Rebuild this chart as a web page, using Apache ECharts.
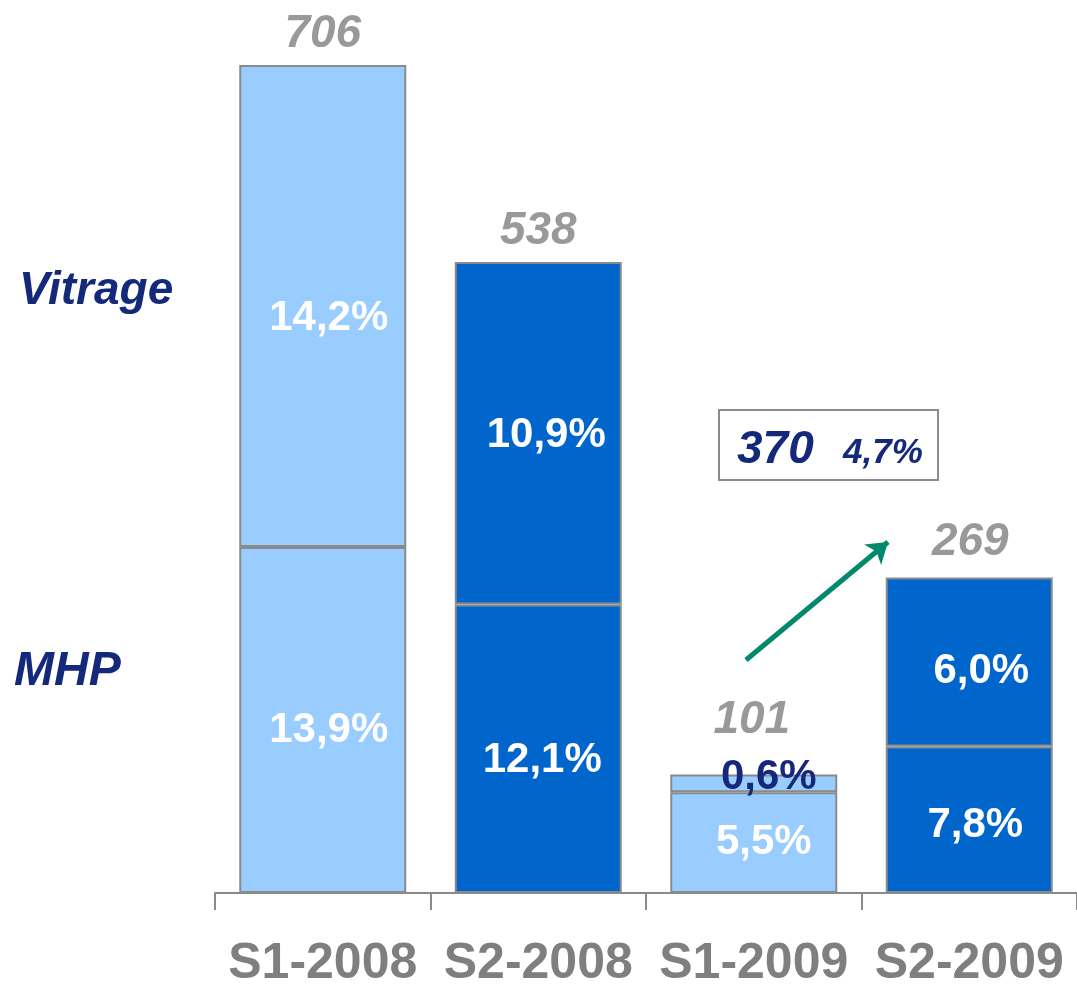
<!DOCTYPE html>
<html>
<head>
<meta charset="utf-8">
<script src="https://cdn.jsdelivr.net/npm/echarts@6/dist/echarts.min.js"></script>
<style>
html,body{margin:0;padding:0;background:#fff;}
#c{width:1077px;height:990px;}
</style>
</head>
<body>
<div id="c"></div>
<script>
var categories = ['S1-2008', 'S2-2008', 'S1-2009', 'S2-2009'];
var mhpValues = [295, 246, 86, 125];
var vitrageValues = [411, 292, 15, 144];
var totals = [706, 538, 101, 269];
var mhpPct = ['13,9%', '12,1%', '5,5%', '7,8%'];
var vitragePct = ['14,2%', '10,9%', '0,6%', '6,0%'];
var annotationTotal = '370';
var annotationPct = '4,7%';

// styling (not data)
var barColors = ['#99CCFF', '#0066CC', '#99CCFF', '#0066CC'];
var mhpLabelOffsets = [[6, 10], [4, 12], [10, 0], [6, 6]];
var vitLabelOffsets = [[6, 12], [8, 2], [15, -6], [12, 9]];
var totalLabelOffsets = [[0, 0], [0, 0], [-2, -23], [1, -4]];

var FONT = "'Liberation Sans', Arial, sans-serif";
var NAVY = '#15297A';
var GRAY = '#7f7f7f';

var chart = echarts.init(document.getElementById('c'), null, {renderer: 'canvas'});

function segData(vals, offsets, isTop) {
  return vals.map(function (v, i) {
    var item = {value: v, itemStyle: {color: barColors[i]}, label: {offset: offsets[i]}};
    if (isTop && i === 2) item.label.color = NAVY;
    return item;
  });
}

var labelBase = {
  show: true,
  position: 'inside',
  fontFamily: FONT,
  fontWeight: 'bold',
  fontSize: 42,
  color: '#ffffff'
};

var option = {
  animation: false,
  backgroundColor: '#ffffff',
  grid: {left: 215, top: 65, width: 866, bottom: 97},
  xAxis: {
    type: 'category',
    data: categories,
    axisLine: {show: true, lineStyle: {color: '#8a8a8a', width: 2}},
    axisTick: {show: true, interval: 0, length: 17, lineStyle: {color: '#8a8a8a', width: 2}},
    axisLabel: {
      interval: 0,
      margin: 46,
      color: GRAY,
      fontFamily: FONT,
      fontWeight: 'bold',
      fontSize: 50
    }
  },
  yAxis: {
    type: 'value',
    min: 0,
    max: 706,
    show: false,
    splitLine: {show: false}
  },
  series: [
    {
      name: 'MHP',
      type: 'bar',
      stack: 'total',
      barWidth: 167,
      data: segData(mhpValues, mhpLabelOffsets, false),
      itemStyle: {borderColor: '#8a8a8a', borderWidth: 2},
      label: Object.assign({}, labelBase, {
        formatter: function (p) { return mhpPct[p.dataIndex]; }
      })
    },
    {
      name: 'Vitrage',
      type: 'bar',
      stack: 'total',
      barWidth: 167,
      data: segData(vitrageValues, vitLabelOffsets, true),
      itemStyle: {borderColor: '#8a8a8a', borderWidth: 2},
      label: Object.assign({}, labelBase, {
        formatter: function (p) { return vitragePct[p.dataIndex]; }
      })
    },
    {
      name: 'Total',
      type: 'scatter',
      symbolSize: 0,
      z: 10,
      data: totals.map(function (v, i) {
        return {value: v, label: {offset: totalLabelOffsets[i]}};
      }),
      label: {
        show: true,
        position: 'top',
        distance: 8,
        color: GRAY,
        fontFamily: FONT,
        fontWeight: 'bold',
        fontStyle: 'italic',
        fontSize: 46,
        formatter: function (p) { return String(totals[p.dataIndex]); }
      },
      markLine: {
        silent: true,
        symbol: ['none', 'arrow'],
        symbolSize: [20, 20],
        label: {show: false},
        lineStyle: {color: '#00896B', width: 5, type: 'solid'},
        data: [[{x: 746, y: 660}, {x: 888, y: 542}]]
      }
    }
  ],
  graphic: [
    {
      type: 'text',
      left: 19,
      top: 268,
      style: {text: 'Vitrage', fill: NAVY, font: 'italic bold 46px ' + FONT}
    },
    {
      type: 'text',
      left: 14,
      top: 648,
      style: {text: 'MHP', fill: NAVY, font: 'italic bold 48px ' + FONT}
    },
    {
      type: 'rect',
      shape: {x: 719, y: 410, width: 219, height: 70},
      style: {fill: '#ffffff', stroke: '#8c8c8c', lineWidth: 2}
    },
    {
      type: 'text',
      x: 737,
      y: 473,
      style: {text: annotationTotal, fill: NAVY, font: 'italic bold 46px ' + FONT, textVerticalAlign: 'bottom'}
    },
    {
      type: 'text',
      x: 843,
      y: 471,
      style: {text: annotationPct, fill: NAVY, font: 'italic bold 35px ' + FONT, textVerticalAlign: 'bottom'}
    }
  ]
};

chart.setOption(option);
</script>
</body>
</html>
